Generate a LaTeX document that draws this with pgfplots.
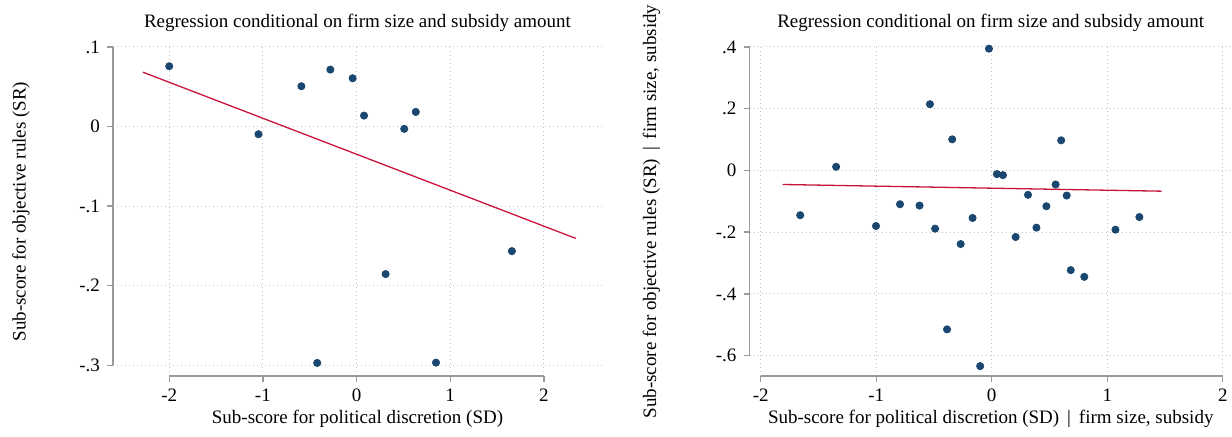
\documentclass[border=0pt]{standalone}
\usepackage{pgfplots}
\pgfplotsset{compat=1.18}
\usepackage{fontspec}
\setmainfont{Liberation Serif}

\definecolor{dotnavy}{HTML}{1A476F}
\definecolor{fitred}{RGB}{200,20,60}
\definecolor{axgray}{HTML}{9A9A9A}
\definecolor{gridgray}{HTML}{C4C4C4}

% partial residual scatter, raw model
\pgfplotstableread{
x y
-2.00 0.0758
-1.047 -0.0096
-0.589 0.0507
-0.280 0.0716
-0.042 0.0607
0.080 0.0138
0.509 -0.0029
0.632 0.0184
-0.420 -0.2970
0.310 -0.1853
0.848 -0.2966
1.658 -0.1565
}\rawpts

\pgfplotstableread{
x y
-2.28 0.0683
2.34 -0.1405
}\rawfit

% added-variable scatter, conditional model
\pgfplotstableread{
x y
-0.024 0.3946
-0.535 0.2146
-0.342 0.1008
-1.347 0.0119
0.601 0.0976
0.045 -0.0119
0.097 -0.0152
0.553 -0.0455
0.314 -0.0791
0.649 -0.0813
0.473 -0.1160
-1.658 -0.1450
-0.794 -0.1095
-0.625 -0.1138
-0.166 -0.1540
1.278 -0.1510
-1.002 -0.1800
-0.490 -0.1886
-0.269 -0.2385
0.207 -0.2157
0.387 -0.1854
1.071 -0.1919
0.684 -0.3230
0.801 -0.3447
-0.387 -0.5150
-0.100 -0.6340
}\avpts

\pgfplotstableread{
x y
-1.81 -0.0455
1.471 -0.0672
}\avfit

\pgfplotsset{
  statastyle/.style={
    scale only axis,
    anchor=north west,
    clip=false,
    axis line style={draw=none},
    tick align=outside,
    xtick pos=bottom, ytick pos=left,
    major tick length=3pt,
    tick style={axgray, line width=0.7pt},
    grid=major,
    major grid style={gridgray, line width=0.5pt, dash pattern=on 0.5pt off 1.5pt},
    font=\fontsize{9.5}{11}\selectfont,
    tick label style={font=\fontsize{9.5}{11}\selectfont},
    every axis title/.style={at={(axis description cs:0.5,1)}, anchor=base, yshift=9.5pt},
    xlabel style={at={(axis description cs:0.5,0)}, anchor=base, yshift=-24pt},
  },
  dots/.style={only marks, mark=*, mark size=1.8pt, dotnavy, mark options={draw=dotnavy, fill=dotnavy}},
  fit/.style={fitred, line width=0.65pt, no marks},
}

\begin{document}
\begin{tikzpicture}
\path[use as bounding box] (0,0) rectangle (616pt,-218.5pt);

\begin{axis}[statastyle,
  at={(56.5pt,-23.5pt)},
  width=244.5pt, height=164.5pt,
  xmin=-2.6, xmax=2.62, ymin=-0.3134, ymax=0.1,
  xtick={-2,-1,0,1,2}, xticklabels={-2,-1,0,1,2},
  ytick={-0.3,-0.2,-0.1,0,0.1}, yticklabels={-.3,-.2,-.1,0,.1},
  title={Regression conditional on firm size and subsidy amount},
  xlabel={Sub-score for political discretion (SD)},
  ylabel={Sub-score for objective rules (SR)},
  ylabel style={at={([xshift=-46pt]axis description cs:0,0.5)}, anchor=center},
]
\draw[axgray, line width=0.75pt] (axis cs:-2.6,-0.3) -- (axis cs:-2.6,0.1);
\draw[axgray, line width=0.75pt] (axis cs:-2,-0.3134) -- (axis cs:2,-0.3134);
\addplot[fit] table[x=x, y=y] {\rawfit};
\addplot[dots] table[x=x, y=y] {\rawpts};
\end{axis}

\begin{axis}[statastyle,
  at={(374.75pt,-23.5pt)},
  width=241.25pt, height=164.5pt,
  xmin=-2.097, xmax=2.08, ymin=-0.666, ymax=0.4,
  xtick={-2,-1,0,1,2}, xticklabels={-2,-1,0,1,2},
  ytick={-0.6,-0.4,-0.2,0,0.2,0.4}, yticklabels={-.6,-.4,-.2,0,.2,.4},
  title={Regression conditional on firm size and subsidy amount},
  xlabel={Sub-score for political discretion (SD) \,|\, firm size, subsidy},
  ylabel={Sub-score for objective rules (SR) \,|\, firm size, subsidy},
  ylabel style={at={([xshift=-49pt]axis description cs:0,0.5)}, anchor=center},
]
\draw[axgray, line width=0.75pt] (axis cs:-2.097,-0.6) -- (axis cs:-2.097,0.4);
\draw[axgray, line width=0.75pt] (axis cs:-2,-0.666) -- (axis cs:2,-0.666);
\addplot[fit] table[x=x, y=y] {\avfit};
\addplot[dots] table[x=x, y=y] {\avpts};
\end{axis}
\end{tikzpicture}
\end{document}
